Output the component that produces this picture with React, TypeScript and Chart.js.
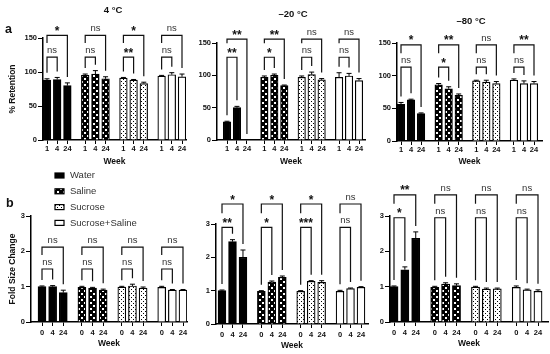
import { useEffect, useRef } from "react";
import { Chart, registerables } from "chart.js";

Chart.register(...registerables);

// ---------- data ----------
const SERIES = ["Water", "Saline", "Sucrose", "Sucrose+Saline"];
const RETENTION_WEEKS = ["1", "4", "24"];
const FOLD_WEEKS = ["0", "4", "24"];
const RETENTION_TICKS = [0, 50, 100, 150];
const FOLD_TICKS = [0, 1, 2, 3];

// % retention, rows = series, cols = weeks 1, 4, 24
const RET_4C = [[88, 89, 80], [95, 97, 90], [91, 88, 83], [94, 96, 93]];
const RET_4C_ERR = [[2, 3, 4], [2, 5, 3], [1, 1, 2], [1, 3, 4]];
const RET_4C_SIG = [["ns", "*"], ["ns", "ns"], ["**", "*"], ["ns", "ns"]];

const RET_M20 = [[28, 50, 0], [97, 100, 84], [97, 101, 93], [97, 99, 92]];
const RET_M20_ERR = [[1, 2, 0], [2, 2, 1], [2, 4, 2], [7, 4, 3]];
const RET_M20_SIG = [["**", "**"], ["*", "**"], ["ns", "ns"], ["ns", "ns"]];

const RET_M80 = [[56, 63, 42], [86, 80, 70], [92, 90, 88], [93, 88, 88]];
const RET_M80_ERR = [[3, 1, 1], [2, 3, 2], [1, 3, 3], [2, 4, 3]];
const RET_M80_SIG = [["ns", "*"], ["*", "**"], ["ns", "ns"], ["ns", "**"]];

// fold size change, cols = weeks 0, 4, 24
const FOLD_4C = [[1.0, 1.0, 0.83], [0.98, 0.96, 0.9], [0.99, 1.02, 0.96], [0.98, 0.9, 0.9]];
const FOLD_4C_ERR = [[0.02, 0.03, 0.07], [0.03, 0.02, 0.03], [0.02, 0.05, 0.03], [0.03, 0.02, 0.02]];
const FOLD_4C_SIG = [["ns", "ns"], ["ns", "ns"], ["ns", "ns"], ["ns", "ns"]];

const FOLD_M20 = [[1.0, 2.47, 2.0], [0.98, 1.26, 1.4], [0.98, 1.28, 1.25], [0.98, 1.06, 1.1]];
const FOLD_M20_ERR = [[0.02, 0.06, 0.22], [0.02, 0.03, 0.04], [0.02, 0.02, 0.05], [0.03, 0.02, 0.02]];
const FOLD_M20_SIG = [["**", "*"], ["*", "*"], ["***", "*"], ["ns", "ns"]];

const FOLD_M80 = [[1.0, 1.48, 2.37], [0.98, 1.07, 1.03], [0.99, 0.93, 0.94], [0.98, 0.91, 0.87]];
const FOLD_M80_ERR = [[0.02, 0.08, 0.18], [0.03, 0.04, 0.05], [0.02, 0.03, 0.02], [0.04, 0.02, 0.04]];
const FOLD_M80_SIG = [["*", "**"], ["ns", "ns"], ["ns", "ns"], ["ns", "ns"]];

// ---------- layout ----------
const FONT = "'Liberation Sans', Arial, Helvetica, sans-serif";
const GROUP_STEP = 3.75;

type Panel = {
  title?: string;
  titleX?: number;
  titleY?: number;
  box: [number, number, number, number];
  area: [number, number, number, number];
  first: number;
  last: number;
  weekY: number;
  tickPad: number;
  yTitle?: string;
  letter?: string;
  letterPos?: [number, number];
  legend?: boolean;
  values: number[][];
  errors: number[][];
  sig: string[][];
  weeks: string[];
  yTicks: number[];
  bracket: [number, number];
};

const PANELS: Panel[] = [
  {
    title: "4 °C", titleX: 113, titleY: 10, box: [0, 0, 190, 170], area: [43, 186, 38, 140],
    first: 47, last: 182, weekY: 162, tickPad: 0, yTitle: "% Retention", letter: "a", letterPos: [5, 33],
    values: RET_4C, errors: RET_4C_ERR, sig: RET_4C_SIG, weeks: RETENTION_WEEKS, yTicks: RETENTION_TICKS,
    bracket: [122, 154],
  },
  {
    title: "–20 °C", titleX: 293, titleY: 14.5, box: [190, 0, 370, 170], area: [217, 365, 43, 140],
    first: 227, last: 359, weekY: 162, tickPad: 0,
    values: RET_M20, errors: RET_M20_ERR, sig: RET_M20_SIG, weeks: RETENTION_WEEKS, yTicks: RETENTION_TICKS,
    bracket: [128, 156],
  },
  {
    title: "–80 °C", titleX: 471, titleY: 21, box: [370, 0, 550, 170], area: [397, 542, 43, 141],
    first: 401, last: 534, weekY: 162, tickPad: 0,
    values: RET_M80, errors: RET_M80_ERR, sig: RET_M80_SIG, weeks: RETENTION_WEEKS, yTicks: RETENTION_TICKS,
    bracket: [113, 147],
  },
  {
    box: [0, 170, 190, 354], area: [31, 187, 216, 322],
    first: 42, last: 183, weekY: 344, tickPad: 2.5, yTitle: "Fold Size Change", letter: "b", letterPos: [6, 207],
    legend: true,
    values: FOLD_4C, errors: FOLD_4C_ERR, sig: FOLD_4C_SIG, weeks: FOLD_WEEKS, yTicks: FOLD_TICKS,
    bracket: [1.5, 2.12],
  },
  {
    box: [190, 170, 370, 354], area: [216, 368, 224, 324],
    first: 222, last: 361, weekY: 346, tickPad: 2.5,
    values: FOLD_M20, errors: FOLD_M20_ERR, sig: FOLD_M20_SIG, weeks: FOLD_WEEKS, yTicks: FOLD_TICKS,
    bracket: [2.9, 3.6],
  },
  {
    box: [370, 170, 550, 354], area: [390, 548, 216, 322],
    first: 394, last: 538, weekY: 344, tickPad: 2.5,
    values: FOLD_M80, errors: FOLD_M80_ERR, sig: FOLD_M80_SIG, weeks: FOLD_WEEKS, yTicks: FOLD_TICKS,
    bracket: [2.95, 3.6],
  },
];

type Pats = { saline: CanvasPattern; sucrose: CanvasPattern };

function makePatterns(): Pats {
  const mk = (size: number, draw: (x: CanvasRenderingContext2D) => void) => {
    const c = document.createElement("canvas");
    c.width = size;
    c.height = size;
    const x = c.getContext("2d")!;
    draw(x);
    return x.createPattern(c, "repeat")!;
  };
  const saline = mk(6, (x) => {
    x.fillStyle = "#000";
    x.fillRect(0, 0, 6, 6);
    x.fillStyle = "#fff";
    x.fillRect(0, 0, 2, 2);
    x.fillRect(3, 3, 2, 2);
  });
  const sucrose = mk(4, (x) => {
    x.fillStyle = "#fff";
    x.fillRect(0, 0, 4, 4);
    x.fillStyle = "#000";
    x.fillRect(1, 1, 1, 1);
    x.fillRect(3, 3, 1, 1);
  });
  return { saline, sucrose };
}

function fillsFor(p: Pats): (string | CanvasPattern)[] {
  return ["#000", p.saline, p.sucrose, "#fff"];
}

function drawBracket(
  ctx: CanvasRenderingContext2D,
  xa: number, xb: number, yTop: number, endA: number, endB: number, label: string
) {
  ctx.strokeStyle = "#111";
  ctx.lineWidth = 1.2;
  ctx.beginPath();
  ctx.moveTo(xa, endA);
  ctx.lineTo(xa, yTop);
  ctx.lineTo(xb, yTop);
  ctx.lineTo(xb, endB);
  ctx.stroke();
  const stars = label.includes("*");
  ctx.textAlign = "center";
  ctx.textBaseline = "alphabetic";
  if (stars) {
    ctx.font = `bold 12px ${FONT}`;
    ctx.fillStyle = "#111";
    ctx.fillText(label, (xa + xb) / 2, yTop - 0.5);
  } else {
    ctx.font = `9.5px ${FONT}`;
    ctx.fillStyle = "#333";
    ctx.fillText(label, (xa + xb) / 2, yTop - 4);
  }
}

function decor(p: Panel, pats: Pats) {
  return {
    id: "decor",
    afterDraw(chart: any) {
      const ctx: CanvasRenderingContext2D = chart.ctx;
      const ys = chart.scales.y;
      const [x0, y0] = p.box;
      ctx.save();
      // error bars
      ctx.strokeStyle = "#000";
      ctx.lineWidth = 1;
      p.values.forEach((vals, g) => {
        const meta = chart.getDatasetMeta(g);
        vals.forEach((v, i) => {
          const e = p.errors[g][i];
          if (!e) return;
          const bx = meta.data[i].x;
          const yb = ys.getPixelForValue(v);
          const yt = ys.getPixelForValue(v + e);
          ctx.beginPath();
          ctx.moveTo(bx, yb);
          ctx.lineTo(bx, yt);
          ctx.moveTo(bx - 2.5, yt);
          ctx.lineTo(bx + 2.5, yt);
          ctx.stroke();
        });
      });
      // significance brackets
      const [innerV, outerV] = p.bracket;
      const yi = ys.getPixelForValue(innerV);
      const yo = ys.getPixelForValue(outerV);
      const GAP = 6;
      SERIES.forEach((_, g) => {
        const meta = chart.getDatasetMeta(g);
        const xs = meta.data.map((el: any) => el.x);
        const top = (i: number) => ys.getPixelForValue(p.values[g][i] + p.errors[g][i]);
        drawBracket(ctx, xs[0], xs[1], yi, Math.max(yi + 4, top(0) - GAP), Math.max(yi + 4, top(1) - GAP), p.sig[g][0]);
        drawBracket(ctx, xs[0], xs[2], yo, Math.max(yo + 4, yi - 14), Math.max(yo + 4, top(2) - GAP), p.sig[g][1]);
      });
      // panel title
      if (p.title) {
        ctx.font = `bold 9.5px ${FONT}`;
        ctx.fillStyle = "#111";
        ctx.textAlign = "center";
        ctx.textBaseline = "middle";
        ctx.fillText(p.title, (p.titleX as number) - x0, (p.titleY as number) - y0);
      }
      // panel letter
      if (p.letter && p.letterPos) {
        ctx.font = `bold 12.5px ${FONT}`;
        ctx.fillStyle = "#111";
        ctx.textAlign = "left";
        ctx.textBaseline = "alphabetic";
        ctx.fillText(p.letter, p.letterPos[0] - x0, p.letterPos[1] - y0);
      }
      // legend
      if (p.legend) {
        const fills = fillsFor(pats);
        SERIES.forEach((name, i) => {
          const cy = 175.5 + i * 15.8 - y0;
          const bx = 55 - x0;
          ctx.fillStyle = fills[i] as any;
          ctx.fillRect(bx, cy - 2.5, 9, 5);
          ctx.strokeStyle = "#000";
          ctx.lineWidth = 1.2;
          ctx.strokeRect(bx, cy - 2.5, 9, 5);
          ctx.font = `9.5px ${FONT}`;
          ctx.fillStyle = "#333";
          ctx.textAlign = "left";
          ctx.textBaseline = "middle";
          ctx.fillText(name, 70 - x0, cy);
        });
      }
      ctx.restore();
    },
  };
}

function buildConfig(p: Panel, pats: Pats): any {
  const [x0, y0, x1, y1] = p.box;
  const [L, R, T, B] = p.area;
  const span = 3 * GROUP_STEP + 2;
  const k = (p.last - p.first) / span;
  const xmin = -(p.first - L) / k;
  const xmax = span + (R - p.last) / k;
  const positions = SERIES.flatMap((_, g) => p.weeks.map((__, b) => g * GROUP_STEP + b));
  const fills = fillsFor(pats);
  const datasets = SERIES.map((name, g) => ({
    label: name,
    data: p.values[g].map((v, i) => ({ x: g * GROUP_STEP + i, y: v })),
    backgroundColor: fills[g],
    borderColor: "#000",
    borderWidth: 1.2,
    borderSkipped: "start",
    barThickness: k * 0.75,
    grouped: false,
  }));
  const tickFont = { family: FONT, size: 7.5, weight: "bold" };
  return {
    type: "bar",
    data: { datasets },
    options: {
      animation: false,
      responsive: false,
      maintainAspectRatio: false,
      events: [],
      layout: { padding: { left: 0, right: x1 - R, top: T - y0, bottom: 0 } },
      plugins: { legend: { display: false }, tooltip: { enabled: false }, title: { display: false } },
      scales: {
        x: {
          type: "linear",
          min: xmin,
          max: xmax,
          offset: false,
          afterBuildTicks: (s: any) => {
            s.ticks = positions.map((v) => ({ value: v }));
          },
          afterFit: (s: any) => {
            s.height = y1 - B;
          },
          ticks: {
            autoSkip: false,
            maxRotation: 0,
            minRotation: 0,
            padding: p.tickPad,
            color: "#111",
            font: tickFont,
            callback: (_v: any, i: number) => p.weeks[i % 3],
          },
          grid: { display: true, offset: false, drawOnChartArea: false, drawTicks: true, tickLength: 4, color: "#000", tickWidth: 1 },
          border: { display: true, color: "#000", width: 1.5 },
          title: {
            display: true,
            text: "Week",
            color: "#111",
            font: { family: FONT, size: 8.5, weight: "bold" },
            padding: { top: 0, bottom: y1 - p.weekY - 5.1 },
          },
        },
        y: {
          type: "linear",
          min: p.yTicks[0],
          max: p.yTicks[p.yTicks.length - 1],
          afterBuildTicks: (s: any) => {
            s.ticks = p.yTicks.map((v) => ({ value: v }));
          },
          afterFit: (s: any) => {
            s.width = L - x0;
          },
          ticks: { padding: 1, color: "#111", font: tickFont },
          grid: { display: true, drawOnChartArea: false, drawTicks: true, tickLength: 5, color: "#000", tickWidth: 1 },
          border: { display: true, color: "#000", width: 1.5 },
          title: p.yTitle
            ? {
                display: true,
                text: p.yTitle,
                color: "#111",
                font: { family: FONT, size: 8.5, weight: "bold" },
                padding: { top: 13 - 5.1, bottom: 0 },
              }
            : { display: false },
        },
      },
    },
    plugins: [decor(p, pats)],
  };
}

export default function App() {
  const refs = useRef<(HTMLCanvasElement | null)[]>([]);
  useEffect(() => {
    document.body.style.margin = "0";
    const pats = makePatterns();
    const charts = PANELS.map((p, idx) => new Chart(refs.current[idx] as HTMLCanvasElement, buildConfig(p, pats)));
    return () => charts.forEach((c) => c.destroy());
  }, []);
  return (
    <div style={{ position: "relative", width: 550, height: 354, background: "#fff", overflow: "hidden" }}>
      {PANELS.map((p, i) => {
        const [x0, y0, x1, y1] = p.box;
        return (
          <canvas
            key={i}
            ref={(el) => {
              refs.current[i] = el;
            }}
            width={x1 - x0}
            height={y1 - y0}
            style={{ position: "absolute", left: x0, top: y0, width: x1 - x0, height: y1 - y0 }}
          />
        );
      })}
    </div>
  );
}
